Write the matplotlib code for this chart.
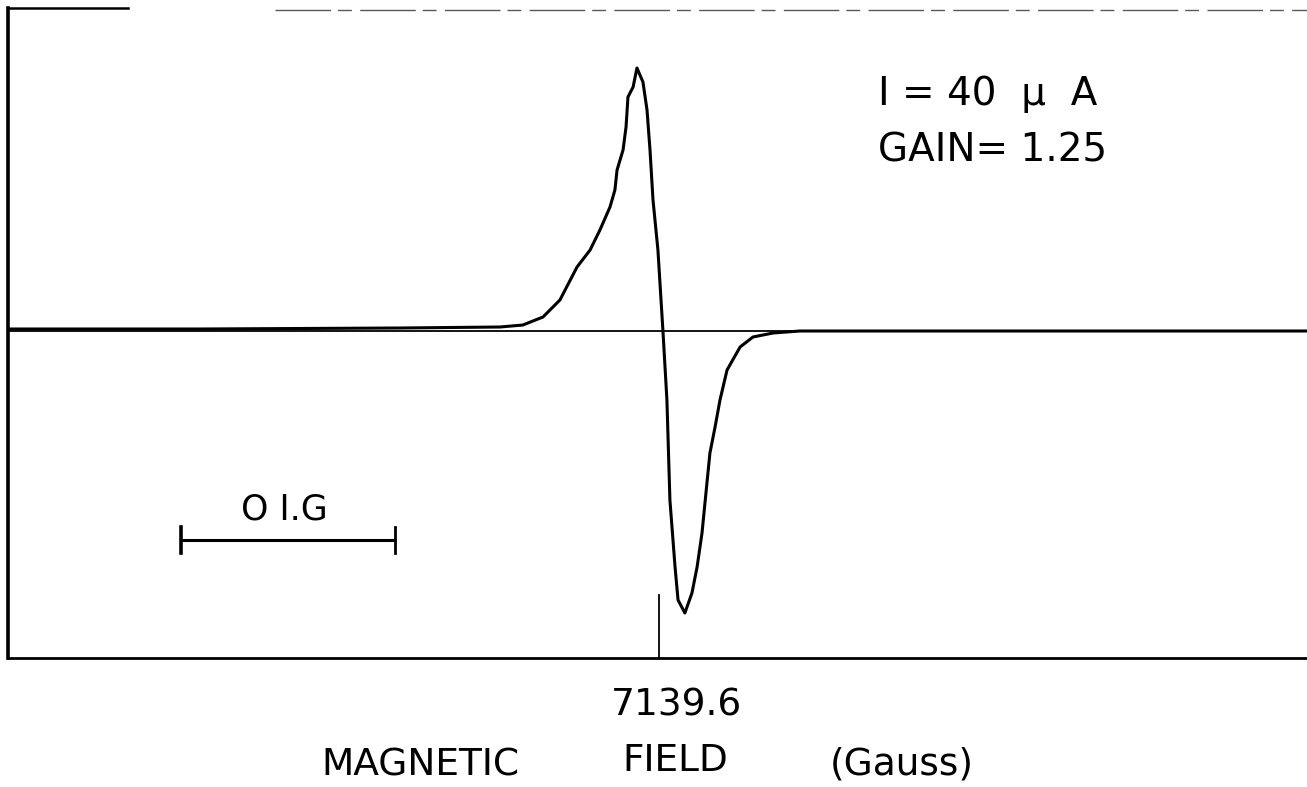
import numpy as np
import matplotlib
matplotlib.use("Agg")
import matplotlib.pyplot as plt

# centre field of the sweep (Gauss) and scale bar length
center_field = 7139.6
bar_length = 0.1

# derivative ESR trace
# field offset from centre in mG, signal in arbitrary units
offset_mG = [-304.2, -214.5, -121.0, -74.3, -63.6, -54.2, -46.3, -38.3, -32.2,
             -27.6, -22.9, -20.6, -19.6, -16.8, -15.4, -14.5, -12.1, -10.3,
             -7.5, -5.6, -4.2, -2.8, -0.5, 1.9, 3.7, 5.1, 7.5, 8.9, 12.1,
             15.4, 17.8, 20.1, 22.4, 23.8, 26.2, 28.5, 31.8, 37.9, 43.9,
             53.3, 65.9, 112.6, 302.8]
signal = [2, 2, 3, 4, 6, 14, 31, 64, 81,
          101, 124, 141, 161, 181, 204, 234, 244, 263,
          249, 221, 181, 131, 81, -2, -69, -169, -236, -269, -282,
          -262, -236, -202, -152, -122, -96, -69, -39, -16, -6,
          -2, 0, 0, 0]

field = center_field + np.array(offset_mG) / 1000.0

W, H = 1307, 787
fig = plt.figure(figsize=(W / 100, H / 100), dpi=100)
ax = fig.add_axes([8 / W, 1 - 658 / H, 1 - 8 / W, (658 - 8) / H])

x0 = center_field - 0.3042
x1 = center_field + 0.3028
ax.set_xlim(x0, x1)
ax.set_ylim(-327, 323)

# baseline and trace
ax.axhline(0, color="black", lw=1.3)
ax.plot(field, signal, color="black", lw=2.2, solid_joinstyle="round")

# centre tick mark
ax.plot([center_field, center_field], [-327, -264], color="black", lw=1.3)

# scale bar (0.1 G)
bx = center_field - 0.2232
ax.plot([bx, bx + bar_length], [-209, -209], color="black", lw=2.2)
ax.plot([bx, bx], [-196, -222], color="black", lw=2.6)
ax.plot([bx + bar_length, bx + bar_length], [-196, -222], color="black", lw=2.0)
ax.text(bx + bar_length / 2 - 0.002, -189, "O I.G", ha="center", va="baseline",
        fontsize=25, color="black")

# frame like the recorder paper
for s in ["top", "right"]:
    ax.spines[s].set_visible(False)
ax.spines["left"].set_linewidth(2.6)
ax.spines["bottom"].set_linewidth(2.0)
ax.plot([0, 0.0924], [1.0, 1.0], transform=ax.transAxes, color="black",
        lw=1.8, clip_on=False)
ax.plot([0.2055, 1.0], [0.997, 0.997], transform=ax.transAxes, color="0.35",
        lw=1.0, ls=(0, (40, 5, 10, 6)), clip_on=False)
ax.set_xticks([])
ax.set_yticks([])

# annotations
fig.text(878 / W, 1 - 105 / H, "I = 40  \u03bc  A", fontsize=28, ha="left",
         va="baseline")
fig.text(878 / W, 1 - 162 / H, "GAIN= 1.25", fontsize=28, ha="left",
         va="baseline")

fig.text(676 / W, 1 - 715 / H, "7139.6", fontsize=27, ha="center",
         va="baseline")
fig.text(420 / W, 1 - 776 / H, "MAGNETIC", fontsize=27, ha="center",
         va="baseline")
fig.text(675 / W, 1 - 771 / H, "FIELD", fontsize=27, ha="center",
         va="baseline")
fig.text(902 / W, 1 - 774 / H, "(Gauss)", fontsize=27, ha="center",
         va="baseline")

fig.savefig("out.png", dpi=100)
